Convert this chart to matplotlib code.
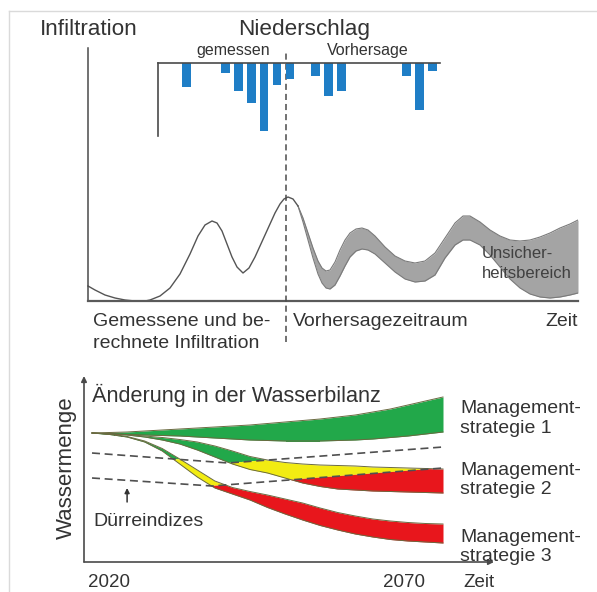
import matplotlib
matplotlib.use('Agg')
import matplotlib.pyplot as plt
from matplotlib.lines import Line2D
from matplotlib.patches import Polygon

plt.rcParams['font.family'] = ['Liberation Sans', 'DejaVu Sans']

W, H = 597, 592
TXT = '#333333'
AX = '#4a4a4a'

# ---------------- data ----------------
# precipitation bars: time slot and amount
rain_slot = [2, 5, 6, 7, 8, 9, 10, 12, 13, 14, 19, 20, 21]
rain_amount = [24, 10, 28, 40, 68, 22, 16, 13, 33, 28, 13, 47, 8]

# measured / calculated infiltration
meas_t = [0, 7, 17, 27, 37, 47, 57, 62, 72, 82, 92, 102, 110, 117, 124, 129, 134,
          139, 144, 149, 155, 161, 167, 172, 177, 182, 187, 192, 196, 200, 205, 210]
meas_v = [15, 11, 6, 3, 1, 0, 0, 1, 5, 13, 27, 47, 65, 76, 80, 78, 70,
          57, 44, 34, 28, 33, 44, 55, 66, 77, 88, 97, 102, 104, 102, 95]

# forecast uncertainty band
fc_t = [210, 215, 220, 225, 230, 234, 238, 242, 247, 252, 257, 262, 268, 274, 280, 287,
        297, 307, 317, 327, 337, 347, 357, 367, 375, 382, 392, 402, 412, 422, 432, 442,
        452, 462, 472, 482, 490]
fc_upper = [95, 83, 68, 53, 40, 33, 30, 31, 39, 51, 61, 68, 72, 73, 71, 65,
            54, 45, 40, 38, 40, 48, 63, 78, 85, 85, 79, 71, 65, 61, 60, 61,
            64, 68, 73, 77, 81]
fc_lower = [95, 79, 61, 43, 27, 18, 13, 12, 16, 25, 35, 44, 50, 52, 51, 47,
            38, 29, 22, 19, 20, 26, 43, 56, 61, 61, 56, 46, 34, 22, 13, 7,
            4, 3, 4, 6, 8]
present_t = 198

# water balance scenarios
wb_year = [2020, 2022.5, 2025, 2027.5, 2030, 2032.5, 2035, 2037.5, 2040, 2042.5, 2045,
           2047.5, 2050, 2052.5, 2055, 2057.5, 2060, 2062.5, 2065, 2067.5, 2070]
s1_upper = [129, 129.5, 130, 131, 132, 133, 134, 135, 136, 137, 138.5,
            140, 141.5, 143, 145, 147, 150, 153, 157, 161, 165]
s1_lower = [129, 128, 127.5, 127, 126.5, 126, 125, 124, 123, 122, 121.5,
            121, 121, 121, 121.5, 122, 123, 124.5, 126, 128, 130]
s2_upper = [129, 128.5, 127.5, 126, 124.5, 122.5, 120, 116, 111, 105.5, 102,
            99.5, 98, 97, 96.5, 96, 95, 94.5, 94, 93.5, 93]
s2_lower = [129, 128, 127, 125, 122, 118, 112, 105, 98, 92.5, 89,
            84, 79, 75.5, 73, 72, 71, 70.5, 70, 69.5, 69]
s3_upper = [129, 128, 125.5, 121, 113.5, 103, 92, 81, 74.5, 70.5, 67,
            63, 59, 54, 49.5, 46, 43, 41, 39.5, 38.5, 38]
s3_lower = [129, 127.5, 125, 120, 111, 98, 85, 74, 68, 62, 54.5,
            48, 42, 36.5, 32, 28, 25, 22.5, 21, 20, 19]

drought1_year = [2020, 2039.4, 2070]
drought1_v = [109, 99, 115]
drought2_year = [2020, 2037.1, 2070]
drought2_v = [84, 76, 94]

GREEN, YELLOW, RED = '#22a84a', '#f2ec12', '#e8161c'

# ---------------- figure ----------------
fig = plt.figure(figsize=(W / 100, H / 100), dpi=100)


def add_ax(x0, y0, x1, y1):
    return fig.add_axes([x0 / W, 1 - y1 / H, (x1 - x0) / W, (y1 - y0) / H])


def ftext(x, y, s, **kw):
    kw.setdefault('color', TXT)
    kw.setdefault('va', 'baseline')
    fig.text(x / W, 1 - y / H, s, **kw)


# light frame
fig.add_artist(Line2D([9 / W, 1], [1 - 11 / H, 1 - 11 / H], color='#dadada', lw=1))
fig.add_artist(Line2D([9 / W, 9 / W], [1 - 11 / H, 0], color='#dadada', lw=1))

# ---- infiltration panel ----
ax = add_ax(88, 48, 578, 301)
ax.set_xlim(0, 490)
ax.set_ylim(0, 253)
ax.patch.set_alpha(0)
for s in ['top', 'right']:
    ax.spines[s].set_visible(False)
ax.spines['left'].set_color(AX)
ax.spines['left'].set_linewidth(1.1)
ax.spines['bottom'].set_color('#5a5a5a')
ax.spines['bottom'].set_linewidth(1.6)
ax.set_xticks([])
ax.set_yticks([])
ax.fill_between(fc_t, fc_lower, fc_upper, color='#a4a4a4', lw=0)
ax.plot(fc_t, fc_upper, color='#7a7a7a', lw=0.8)
ax.plot(fc_t, fc_lower, color='#7a7a7a', lw=0.8)
ax.plot(meas_t, meas_v, color='#555555', lw=1.0, clip_on=False)
ax.axvline(present_t, ymin=-0.162, ymax=0.99, color=AX, lw=1.1,
           dashes=(4, 2.6), clip_on=False, zorder=5)

# ---- precipitation inset ----
axb = add_ax(158, 62.7, 440, 136)
axb.patch.set_alpha(0)
axb.set_xlim(-0.2, 21.6)
axb.set_ylim(73, 0)
for s in ['bottom', 'right']:
    axb.spines[s].set_visible(False)
for s in ['top', 'left']:
    axb.spines[s].set_color(AX)
    axb.spines[s].set_linewidth(1.2)
axb.set_xticks([])
axb.set_yticks([])
axb.bar(rain_slot, rain_amount, width=0.68, color='#1f7ec6', lw=0)

# ---- water balance panel ----
ax2 = add_ax(84, 376, 494, 562)
x_left = 2020 - 8 / 7.02
x_right = 2070 + 51 / 7.02
ax2.set_xlim(x_left, x_right)
ax2.set_ylim(0, 186)
ax2.axis('off')
ax2.annotate('', xy=(0, 1), xytext=(0, 0), xycoords='axes fraction',
             arrowprops=dict(arrowstyle='-|>', color=AX, lw=1.2,
                             mutation_scale=8, shrinkA=0, shrinkB=0))
ax2.annotate('', xy=(1, 0), xytext=(0, 0), xycoords='axes fraction',
             arrowprops=dict(arrowstyle='-|>', color=AX, lw=1.2,
                             mutation_scale=8, shrinkA=0, shrinkB=0))

X0, X1 = x_left - 5, x_right + 5
d1 = list(zip(drought1_year, drought1_v))
d2 = list(zip(drought2_year, drought2_v))
zone_green = [(X0, drought1_v[0])] + d1 + [(X1, drought1_v[-1]), (X1, 1000), (X0, 1000)]
zone_yellow = ([(X0, drought1_v[0])] + d1 + [(X1, drought1_v[-1]), (X1, drought2_v[-1])]
               + d2[::-1] + [(X0, drought2_v[0])])
zone_red = [(X0, drought2_v[0])] + d2 + [(X1, drought2_v[-1]), (X1, -1000), (X0, -1000)]

for lo, hi in [(s1_lower, s1_upper), (s2_lower, s2_upper), (s3_lower, s3_upper)]:
    for zone, col in [(zone_green, GREEN), (zone_yellow, YELLOW), (zone_red, RED)]:
        pc = ax2.fill_between(wb_year, lo, hi, color=col, lw=0, zorder=2)
        clip = Polygon(zone, closed=True, transform=ax2.transData)
        pc.set_clip_path(clip)
    ax2.plot(wb_year, hi, color='#6a6a40', lw=0.7, zorder=3)
    ax2.plot(wb_year, lo, color='#6a6a40', lw=0.7, zorder=3)

ax2.plot(drought1_year, drought1_v, color='#505050', lw=1.2, dashes=(4.8, 2.8), zorder=4)
ax2.plot(drought2_year, drought2_v, color='#505050', lw=1.2, dashes=(4.8, 2.8), zorder=4)
ax2.annotate('', xy=(2025, 74), xytext=(2025, 60),
             arrowprops=dict(arrowstyle='-|>', color='#333333', lw=1.1,
                             mutation_scale=7, shrinkA=0, shrinkB=0))

# ---------------- texts ----------------
ftext(40, 35, 'Infiltration', fontsize=16.2)
ftext(238, 35, 'Niederschlag', fontsize=16.2)
ftext(196, 55, 'gemessen', fontsize=11.5)
ftext(327, 55, 'Vorhersage', fontsize=11.5)
ftext(93, 326, 'Gemessene und be-', fontsize=14)
ftext(93, 348, 'rechnete Infiltration', fontsize=14)
ftext(293, 326, 'Vorhersagezeitraum', fontsize=14)
ftext(545, 326, 'Zeit', fontsize=14)
ftext(482, 258, 'Unsicher-', fontsize=12, color='#404040')
ftext(482, 278, 'heitsbereich', fontsize=12, color='#404040')

ftext(92, 402, 'Änderung in der Wasserbilanz', fontsize=15.6)
ftext(66, 468, 'Wassermenge', fontsize=16, rotation=90, ha='center', va='center')
ftext(93, 526, 'Dürreindizes', fontsize=14)
for y1, y2, lab in [(413, 433, 'strategie 1'), (475, 494, 'strategie 2'), (542, 561, 'strategie 3')]:
    ftext(460, y1, 'Management-', fontsize=14)
    ftext(460, y2, lab, fontsize=14)
ftext(88, 587, '2020', fontsize=13.5)
ftext(383, 587, '2070', fontsize=13.5)
ftext(463, 587, 'Zeit', fontsize=13.5)

fig.savefig('out.png', dpi=100)
